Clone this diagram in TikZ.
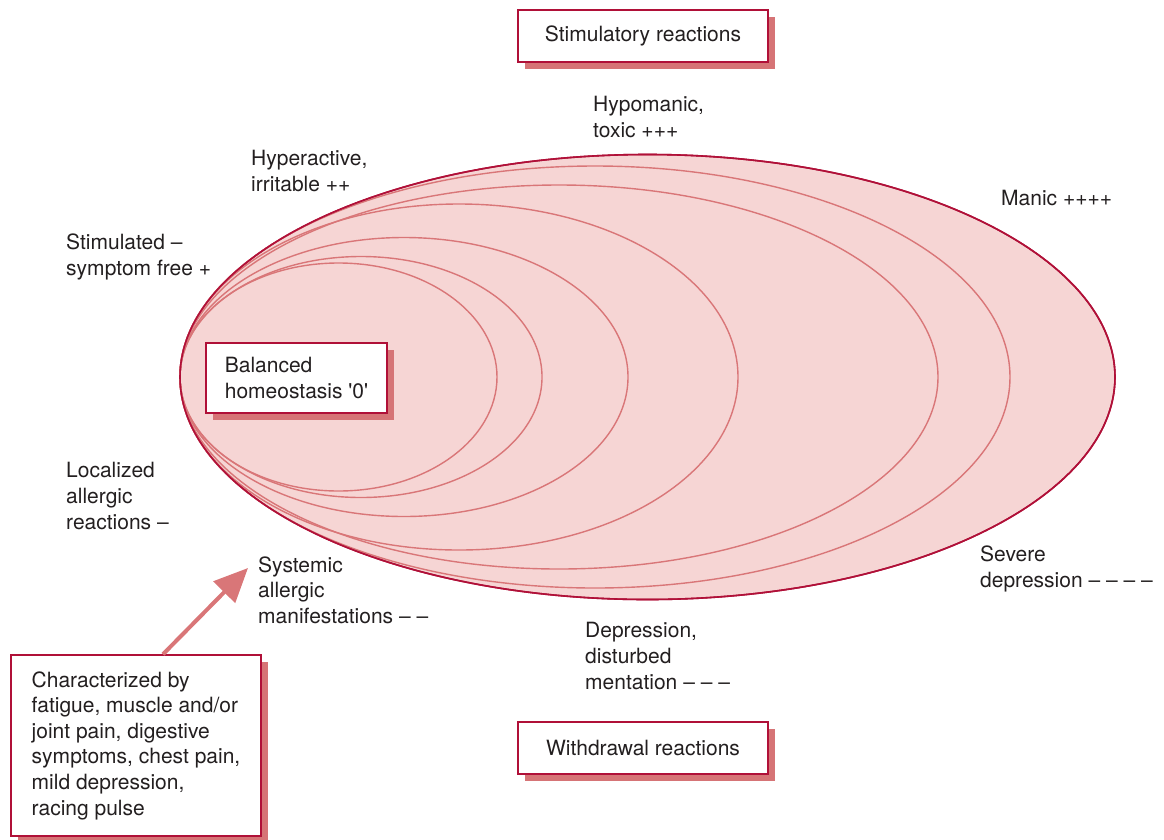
\documentclass[tikz,border=0pt]{standalone}
\usepackage{fontspec}
\setmainfont{TeX Gyre Heros}
\usetikzlibrary{shapes,arrows.meta,positioning,calc,shadows}

\definecolor{crimson}{RGB}{176,16,56}
\definecolor{ringline}{RGB}{217,118,120}
\definecolor{pinkfill}{RGB}{246,213,212}
\definecolor{boxshade}{RGB}{214,116,118}
\definecolor{ink}{RGB}{35,31,32}

\begin{document}
\begin{tikzpicture}[
    x=1pt, y=-1pt,
    font=\fontsize{21}{25.6}\selectfont,
    redbox/.style={draw=crimson, line width=1.5pt, fill=white, text=ink,
        drop shadow={shadow xshift=7pt, shadow yshift=-7pt, fill=boxshade, opacity=1}},
    label/.style={anchor=west, align=left, inner sep=0pt, text=ink},
    ring/.style={draw=ringline, line width=1.4pt},
    pointer/.style={-{Triangle[length=34pt, width=30pt]}, line width=4pt, draw=ringline}
]
\useasboundingbox (0,0) rectangle (1164,839);

% Ellipses
\draw[fill=pinkfill, draw=crimson, line width=1.6pt] (647.5,377) ellipse [x radius=467.5, y radius=222.5];
\foreach \rx/\ry in {415/211, 379/192, 279/173, 224/139.5, 181/120.5, 158.5/114}
    \draw[ring] (180+\rx,377) ellipse [x radius=\rx, y radius=\ry];
\draw[draw=crimson, line width=1.6pt] (647.5,377) ellipse [x radius=467.5, y radius=222.5];

% Boxes
\node[redbox, minimum width=250pt, minimum height=52pt] (stim) at (643,36) {Stimulatory reactions};
\node[redbox, minimum width=250pt, minimum height=52pt] (withdr) at (643,748) {Withdrawal reactions};
\node[redbox, minimum width=181pt, minimum height=70pt, align=left] (balanced) at (296.5,378) {Balanced\\homeostasis \textquotesingle 0\textquotesingle};
\node[redbox, minimum width=250pt, minimum height=181pt, align=left] (charbox) at (136,745.5) {Characterized by\\fatigue, muscle and/or\\joint pain, digestive\\symptoms, chest pain,\\mild depression,\\racing pulse};

% Stimulatory side
\node[label] (hypomanic) at (593,117) {Hypomanic,\\toxic +++};
\node[label] (hyperactive) at (251,171) {Hyperactive,\\irritable ++};
\node[label] (manic) at (1001,198) {Manic ++++};
\node[label] (stimulated) at (66,257) {Stimulated –\\symptom free +};

% Withdrawal side
\node[label] (localized) at (66,496) {Localized\\allergic\\reactions –};
\node[label] (systemic) at (258,590) {Systemic\\allergic\\manifestations – –};
\node[label] (severe) at (980,569) {Severe\\depression – – – –};
\node[label] (depression) at (585,656) {Depression,\\disturbed\\mentation – – –};

% Arrow
\coordinate (tip) at (248,568);
\draw[pointer] ([xshift=27pt]charbox.north) -- (tip);

\end{tikzpicture}
\end{document}
